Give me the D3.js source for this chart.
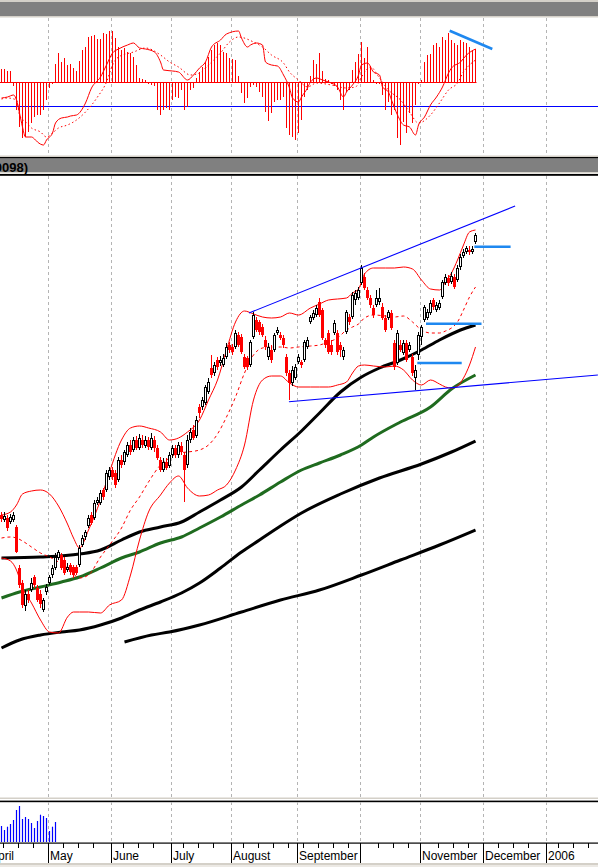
<!DOCTYPE html>
<html><head><meta charset="utf-8">
<script src="https://cdn.jsdelivr.net/npm/d3@7"></script>
<style>html,body{margin:0;padding:0;background:#fff;overflow:hidden}svg{display:block}</style>
</head><body>
<svg id="c" width="598" height="867"></svg>
<script>
// ---------------- DATA ----------------
const opens = [1485,1480,1482,1478,1480,1473,1432,1417,1394,1406,
1410,1423,1412,1406,1390,1408,1417,1425,1432,1442,
1445,1440,1430,1435,1433,1433,1435,1455,1463,1474,
1485,1482,1497,1497,1510,1510,1523,1530,1527,1520,
1540,1538,1545,1555,1550,1560,1552,1560,1554,1560,
1552,1560,1552,1540,1530,1538,1534,1545,1552,1545,
1554,1545,1535,1560,1570,1564,1593,1593,1597,1608,
1632,1627,1640,1637,1635,1643,1655,1653,1653,1665,
1663,1643,1642,1635,1663,1680,1678,1673,1660,1643,
1650,1650,1667,1665,1662,1643,1627,1617,1622,1638,
1638,1640,1653,1678,1682,1685,1698,1690,1660,1667,
1655,1667,1667,1655,1643,1668,1683,1683,1700,1702,
1717,1723,1710,1702,1692,1695,1698,1693,1682,1682,
1687,1657,1637,1655,1647,1657,1650,1643,1622,1645,
1663,1680,1682,1687,1700,1690,1692,1703,1717,1722,
1718,1723,1720,1733,1744,1748,1750,1748,1758];
const closes = [1481,1484,1472,1483,1485,1448,1415,1395,1406,1400,
1417,1415,1400,1396,1400,1413,1423,1432,1443,1448,
1432,1427,1433,1428,1425,1427,1452,1462,1468,1482,
1477,1497,1500,1507,1503,1527,1530,1523,1515,1540,
1535,1548,1555,1548,1560,1552,1562,1555,1560,1553,
1562,1552,1542,1530,1538,1532,1545,1552,1545,1555,
1548,1530,1560,1568,1562,1580,1587,1600,1613,1618,
1625,1635,1633,1640,1642,1653,1650,1648,1667,1655,
1648,1633,1633,1658,1685,1670,1668,1665,1653,1653,
1640,1665,1670,1662,1655,1627,1617,1630,1633,1643,
1635,1658,1660,1683,1687,1692,1685,1662,1655,1648,
1648,1677,1648,1650,1650,1688,1678,1705,1707,1710,
1732,1712,1702,1695,1685,1702,1702,1682,1670,1688,
1672,1633,1667,1650,1657,1640,1655,1627,1630,1665,
1673,1693,1688,1697,1693,1695,1697,1718,1723,1717,
1724,1713,1732,1743,1748,1752,1748,1751,1765];
const highs = [1488,1488,1485,1486,1488,1475,1435,1420,1410,1410,
1422,1425,1415,1410,1402,1416,1425,1435,1447,1450,
1447,1443,1437,1437,1435,1435,1455,1465,1470,1485,
1488,1500,1503,1510,1512,1530,1533,1533,1530,1543,
1545,1550,1558,1560,1563,1564,1566,1565,1564,1563,
1567,1564,1555,1543,1542,1542,1548,1555,1555,1558,
1558,1548,1565,1572,1575,1584,1596,1603,1615,1622,
1645,1638,1643,1644,1646,1657,1658,1656,1670,1668,
1666,1646,1644,1660,1688,1683,1680,1676,1664,1657,
1655,1667,1673,1668,1665,1646,1630,1634,1636,1646,
1640,1660,1663,1685,1690,1695,1702,1692,1662,1670,
1660,1680,1670,1658,1653,1690,1686,1708,1710,1713,
1735,1727,1713,1705,1695,1710,1712,1697,1685,1690,
1690,1660,1670,1660,1660,1660,1658,1646,1635,1668,
1675,1695,1691,1700,1702,1698,1700,1720,1726,1725,
1728,1726,1735,1746,1751,1754,1754,1754,1767];
const lows = [1478,1478,1469,1476,1478,1447,1412,1392,1389,1397,
1408,1412,1398,1392,1388,1405,1415,1422,1430,1440,
1430,1425,1428,1425,1422,1425,1433,1453,1460,1472,
1475,1480,1495,1495,1500,1508,1520,1520,1512,1518,
1532,1535,1543,1545,1548,1550,1550,1552,1552,1550,
1550,1548,1540,1528,1528,1530,1532,1542,1542,1542,
1545,1498,1532,1557,1560,1562,1582,1590,1595,1606,
1622,1624,1630,1634,1633,1641,1647,1645,1651,1653,
1646,1631,1630,1633,1661,1668,1665,1663,1650,1640,
1637,1648,1665,1660,1652,1624,1600,1614,1620,1636,
1632,1638,1651,1676,1680,1683,1683,1660,1652,1646,
1645,1665,1645,1643,1640,1666,1675,1681,1695,1700,
1715,1710,1700,1692,1682,1693,1695,1680,1668,1680,
1670,1630,1635,1648,1645,1638,1648,1624,1610,1640,
1655,1678,1680,1685,1690,1688,1690,1701,1715,1714,
1716,1711,1718,1730,1742,1746,1745,1746,1756];

// Bollinger bands (sampled)
const bbIdx = [0,3,5,7,10,13,16,19,22,24,26,29,33,36,40,43,46,49,53,56,59,62,66,69,72,75,78,81,84,87,90,93,96,99,103,106,109,112,115,117,119,121,124,128,131,134,137,140,143,146,148,150,152,154,156,158];
const bbUpper = [1485,1488,1495,1506,1509,1510,1506,1494,1476,1462,1452,1470,1500,1528,1560,1572,1574,1572,1568,1560,1562,1568,1580,1600,1620,1650,1678,1689,1686,1683,1682,1683,1687,1685,1692,1696,1700,1701,1702,1707,1711,1726,1732,1732,1732,1733,1731,1720,1711,1710,1718,1727,1740,1755,1768,1770];
const bbMid = [1462,1463,1462,1459,1453,1447,1443,1438,1432,1426,1422,1425,1443,1455,1472,1490,1503,1518,1535,1542,1547,1548,1550,1555,1566,1583,1603,1627,1645,1652,1653,1653,1652,1653,1654,1655,1658,1662,1670,1673,1676,1682,1685,1684,1683,1684,1678,1670,1667,1667,1669,1672,1678,1690,1703,1713];
const bbLower = [1442,1439,1430,1412,1397,1380,1368,1367,1383,1388,1388,1388,1387,1395,1400,1425,1460,1488,1505,1517,1524,1512,1504,1505,1510,1515,1530,1555,1600,1620,1624,1624,1617,1613,1613,1613,1613,1615,1618,1627,1634,1635,1634,1633,1634,1630,1620,1615,1620,1616,1613,1612,1614,1622,1635,1653];

// Moving averages (sampled)
const ma1Idx = [0,13,26,33,40,46,53,60,66,73,80,86,93,100,106,113,120,126,133,140,146,153,158];
const ma1 = [1442,1443,1446,1450,1460,1468,1473,1478,1488,1500,1513,1530,1550,1569,1587,1608,1623,1632,1640,1650,1660,1670,1675];
const ma2Idx = [0,6,13,20,26,33,40,46,53,60,66,73,80,86,93,100,106,113,120,124,133,143,150,158];
const ma2 = [1402,1408,1413,1418,1423,1432,1442,1448,1457,1463,1472,1483,1495,1505,1518,1530,1537,1545,1555,1563,1578,1593,1611,1625];
const ma3Idx = [0,6,13,20,26,33,40,46,53,60,66,73,80,86,93,100,113,126,140,150,158];
const ma3 = [1352,1360,1365,1368,1370,1375,1382,1390,1398,1407,1417,1432,1448,1460,1474,1487,1506,1522,1536,1548,1559];
const ma4Idx = [41,50,56,66,80,93,106,120,133,146,158];
const ma4 = [1358,1365,1368,1375,1388,1400,1410,1425,1440,1455,1470];

// Drawn trend lines [startIdx, startPrice, endIdx, endPrice]
const trendUpper = [82.5, 1687, 171.2, 1794];
const trendLower = [95.8, 1598.3, 198.8, 1625];
// Horizontal marks [fromIdx, toIdx, price]
const levelMarks = [[157.6,169.7,1753.3],[141.5,160,1676.3],[138.6,153.4,1637]];

// MACD
const macdHist = [6.5,6.5,5.5,5.5,-2,-14,-22.5,-28,-27.5,-25,
-20.5,-17.5,-16.5,-16.5,-14,-9,-3,-1,9,14.5,
10,12,8.5,9,7,5.5,10.5,16,17.5,22.5,
23,23.5,21.5,21.5,24.5,24,25.5,25.5,22,17.5,
16,17,15,14.5,12.5,8.5,2,1.5,1,-1,
-1.5,-2,-14,-16.5,-14,-13,-14,-9,-7.5,-8,
-4,-14,-12.5,-4,-3,2,5,7.5,10,12.5,
16,18.5,19.5,18.5,15,14.5,12,11.5,11,3,
-5.5,-10.5,-8,-2.5,-1.5,-2.5,-5,-7.5,-15,-19.5,
-15.5,-10,-9,-9,-7.5,-23,-26.5,-27.5,-29,-25.5,
-19,-7.5,-4,3,11,9,14.5,5.5,1.5,1,
-1,-2,-4,-9,-14,-5,-4,6,10,14,
20,12,17.5,8,1,-1,-1,-6.5,-14,-10,
-16.5,-14,-28,-31.5,-20,-25.5,-15.5,-20.5,-11.5,-1,
1,10,13.5,14,18.5,19.5,17.5,22.5,21,24.5,
21,19.5,18.5,21,20,19.5,17.5,16,16.5];
const macdIdx = [0,2,4,5,6,7,8,10,11,12,14,15,17,18,20,22,23,25,28,30,33,35,37,39,42,44,46,48,51,53,54,57,59,62,64,66,68,70,73,75,79,80,82,83,85,87,88,90,92,94,96,97,99,100,102,103,105,107,109,110,112,114,115,117,119,120,122,124,126,127,129,130,132,134,136,138,139,141,143,145,147,149,150,153,155,158];
const macdLine = [-8,-7.5,-6.5,-9,-15.5,-22.5,-27.5,-27.5,-28.5,-30,-31.5,-29,-25.5,-20.5,-18,-17.5,-17,-16.5,-10.5,-3,2.5,8.5,14.5,16.5,18.5,19.5,17,16.5,15,10,6,5.5,5,1,3.5,7,10,17.5,21,24,25.5,22,17.5,18.5,19.5,18.5,10,8.5,8,3.5,-3,-8,-10,-7.5,-3,0,2,1,0,-0.5,-2.5,-7.5,-5,-1.5,3.5,8.5,9.5,5,3.5,-2.5,-5,-9,-16.5,-21.5,-22.5,-26.5,-21.5,-17.5,-11.5,-7.5,-2.5,4.5,7,10,13.5,16.5];
const sigIdx = [0,2,5,6,8,10,13,15,17,19,22,25,28,32,35,37,39,44,48,53,56,59,63,66,69,73,76,79,84,87,90,94,96,99,102,105,110,115,118,120,123,126,129,133,136,139,143,146,149,152,154,156,158];
const sigLine = [-8.5,-8,-9,-16.5,-20,-23,-25,-27.5,-25.5,-23,-21.5,-19,-15,-7.5,0,8.5,12.5,15,17,13.5,10,7.5,3.5,4.5,8.5,14.5,20,22.5,20,17.5,13.5,9.5,5,1,-2.5,-0.5,-1.5,-3,-2.5,2.5,7.5,2,-4,-9,-15,-20.5,-16.5,-10.5,-4,-0.5,5,8.5,11];
const macdLevel = -12.15;
const macdTrend = [149.4, 25.65, 163.6, 16.5];

// Volume (only the first weeks are present)
const volume = [160,120,153,180,220,320,360,230,250,230,190,140,210,273,260,240,110,153,200];

// Time axis
const monthStarts = [-4,16,37,57,77,99,120,140,161,182];
const monthLabels = ["April","May","June","July","August","September","","November","December","2006"];
const headerText = "0098)";

// ---------------- LAYOUT ----------------
const W = 598, H = 867;
const svg = d3.select("#c");
const x = d3.scaleLinear().domain([-0.5, 198.8333]).range([0, W]);
const yP = d3.scaleLinear().domain([1203, 1823]).range([797, 177]);
const yM = d3.scaleLinear().domain([-36.5, 31.5]).range([155, 19]);
const yV = d3.scaleLinear().domain([0, 400]).range([842, 802]);

svg.append("rect").attr("width", W).attr("height", H).attr("fill", "#fff");

const defs = svg.append("defs");
defs.append("clipPath").attr("id","cpP").append("rect").attr("x",0).attr("y",176).attr("width",W).attr("height",621);
defs.append("clipPath").attr("id","cpM").append("rect").attr("x",0).attr("y",18).attr("width",W).attr("height",138);

// frame bands
function band(y, h, c){ svg.append("rect").attr("x",0).attr("y",y).attr("width",W).attr("height",h).attr("fill",c); }
band(0, 2, "#d4d0c8");
band(2, 14, "#808080");
band(16, 1.5, "#d4d0c8");
band(155.5, 1.5, "#d4d0c8");
band(157, 1.6, "#000");
band(158.6, 13.6, "#808080");
band(172.2, 1.3, "#d4d0c8");
band(174, 1.8, "#000");
band(797.5, 1.5, "#d4d0c8");
band(800.6, 1.6, "#000");
band(863, 2, "#d4d0c8");
band(865, 2, "#ece9e4");

svg.append("text").attr("x", 28).attr("y", 171.5).attr("text-anchor","end")
  .attr("font-family","'Liberation Sans', Arial, sans-serif").attr("font-weight","bold")
  .attr("font-size", 13).attr("fill","#000").text(headerText);

// gridlines
const boundaries = monthStarts.map(m => Math.round(x(m - 0.5)) + 0.5).filter(v => v > 0 && v < W);
const grid = svg.append("g").attr("stroke","#b4b4b4").attr("stroke-width",1).attr("stroke-dasharray","3,3");
[[18,155],[176,797],[802,843]].forEach(([a,b]) => {
  boundaries.forEach(bx => grid.append("line").attr("x1",bx).attr("x2",bx).attr("y1",a).attr("y2",b));
});

// ---------------- MACD PANEL ----------------
const gM = svg.append("g").attr("clip-path","url(#cpM)");
gM.append("line").attr("x1",0).attr("x2",W).attr("y1",Math.round(yM(macdLevel))+0.5).attr("y2",Math.round(yM(macdLevel))+0.5)
  .attr("stroke","#0000ff").attr("stroke-width",1.2);
gM.selectAll("line.h").data(macdHist).enter().append("line")
  .attr("x1",(d,i)=>x(i)).attr("x2",(d,i)=>x(i))
  .attr("y1",yM(0)).attr("y2",d=>yM(d))
  .attr("stroke","#ff0000").attr("stroke-width",1);
gM.append("line").attr("x1",0).attr("x2",x(macdHist.length-1)+1)
  .attr("y1",Math.round(yM(0))+0.5).attr("y2",Math.round(yM(0))+0.5).attr("stroke","#ff0000").attr("stroke-width",1.2);
const lineM = d3.line().x(d=>x(d[0])).y(d=>yM(d[1])).curve(d3.curveMonotoneX);
gM.append("path").attr("d", lineM(macdIdx.map((v,k)=>[v,macdLine[k]])))
  .attr("fill","none").attr("stroke","#ff0000").attr("stroke-width",1);
gM.append("path").attr("d", lineM(sigIdx.map((v,k)=>[v,sigLine[k]])))
  .attr("fill","none").attr("stroke","#ff0000").attr("stroke-width",1).attr("stroke-dasharray","1.5,2.5");
gM.append("line").attr("x1",x(macdTrend[0])).attr("y1",yM(macdTrend[1])).attr("x2",x(macdTrend[2])).attr("y2",yM(macdTrend[3]))
  .attr("stroke","#1e88f0").attr("stroke-width",2.6);

// ---------------- PRICE PANEL ----------------
const gP = svg.append("g").attr("clip-path","url(#cpP)");
const lineP = d3.line().x(d=>x(d[0])).y(d=>yP(d[1])).curve(d3.curveMonotoneX);
function pts(idx, vals){ return idx.map((v,k)=>[v, vals[k]]); }

// moving averages
gP.append("path").attr("d", lineP(pts(ma4Idx, ma4))).attr("fill","none").attr("stroke","#000").attr("stroke-width",3);
gP.append("path").attr("d", lineP(pts(ma3Idx, ma3))).attr("fill","none").attr("stroke","#000").attr("stroke-width",3);
gP.append("path").attr("d", lineP(pts(ma2Idx, ma2))).attr("fill","none").attr("stroke","#1f6b1f").attr("stroke-width",3);
gP.append("path").attr("d", lineP(pts(ma1Idx, ma1))).attr("fill","none").attr("stroke","#000").attr("stroke-width",3);

// bollinger
gP.append("path").attr("d", lineP(pts(bbIdx, bbUpper))).attr("fill","none").attr("stroke","#ff0000").attr("stroke-width",1);
gP.append("path").attr("d", lineP(pts(bbIdx, bbLower))).attr("fill","none").attr("stroke","#ff0000").attr("stroke-width",1);
gP.append("path").attr("d", lineP(pts(bbIdx, bbMid))).attr("fill","none").attr("stroke","#ff0000").attr("stroke-width",1).attr("stroke-dasharray","3,3");

// candles
const candles = opens.map((o,i)=>({i, o, h:highs[i], l:lows[i], c:closes[i]}));
const cg = gP.append("g");
candles.forEach(d => {
  const up = d.c >= d.o;
  const cx = x(d.i);
  cg.append("line").attr("x1",cx).attr("x2",cx).attr("y1",yP(d.h)).attr("y2",yP(d.l))
    .attr("stroke", up ? "#000" : "#ff0000").attr("stroke-width",1);
  const yTop = Math.round(yP(Math.max(d.o,d.c)));
  const yBot = Math.max(yTop+1, Math.round(yP(Math.min(d.o,d.c))));
  if (up) {
    cg.append("rect").attr("x",cx-1).attr("y",yTop+0.5).attr("width",2).attr("height",Math.max(1,yBot-yTop-1))
      .attr("fill","#fff").attr("stroke","#000").attr("stroke-width",1);
  } else {
    cg.append("rect").attr("x",cx-1.5).attr("y",yTop).attr("width",3).attr("height",Math.max(1,yBot-yTop))
      .attr("fill","#ff0000");
  }
});

// trend lines
gP.append("line").attr("x1",x(trendUpper[0])).attr("y1",yP(trendUpper[1])).attr("x2",x(trendUpper[2])).attr("y2",yP(trendUpper[3]))
  .attr("stroke","#0000ff").attr("stroke-width",1.1);
gP.append("line").attr("x1",x(trendLower[0])).attr("y1",yP(trendLower[1])).attr("x2",x(trendLower[2])).attr("y2",yP(trendLower[3]))
  .attr("stroke","#0000ff").attr("stroke-width",1.1);
levelMarks.forEach(m => {
  gP.append("line").attr("x1",x(m[0])).attr("x2",x(m[1])).attr("y1",yP(m[2])).attr("y2",yP(m[2]))
    .attr("stroke","#1e88f0").attr("stroke-width",2.6);
});

// ---------------- VOLUME ----------------
svg.append("g").selectAll("line").data(volume).enter().append("line")
  .attr("x1",(d,i)=>x(i)).attr("x2",(d,i)=>x(i)).attr("y1",yV(0)).attr("y2",d=>yV(d))
  .attr("stroke","#0000ff").attr("stroke-width",1.2);

// ---------------- TIME AXIS ----------------
band(842.5, 1.2, "#000");
const ax = svg.append("g");
const minor = d3.range(-4.5, 199, 5).filter(t => monthStarts.every(m => Math.abs(t - (m-0.5)) > 1.2));
minor.forEach(t => {
  const px = Math.round(x(t)) + 0.5;
  ax.append("line").attr("x1",px).attr("x2",px).attr("y1",843).attr("y2",848).attr("stroke","#000");
});
monthStarts.forEach((m,k) => {
  const px = Math.round(x(m-0.5)) + 0.5;
  ax.append("line").attr("x1",px).attr("x2",px).attr("y1",843).attr("y2",863).attr("stroke","#000");
  if (monthLabels[k]) ax.append("text").attr("x",px+1.5).attr("y",860)
    .attr("font-family","'Liberation Sans', Arial, sans-serif").attr("font-size",12).attr("fill","#000").text(monthLabels[k]);
});
</script>
</body></html>
